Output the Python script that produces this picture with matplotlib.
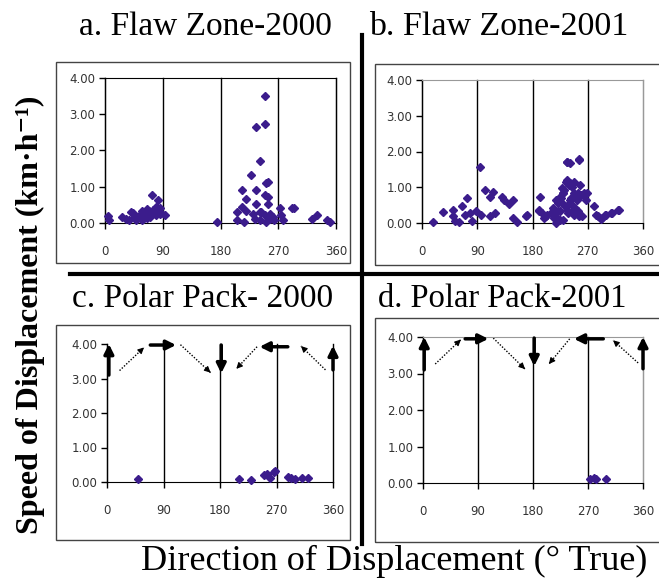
import numpy as np
import matplotlib
matplotlib.use('Agg')
import matplotlib.pyplot as plt
from matplotlib.patches import Rectangle
from matplotlib.lines import Line2D

W, H = 659, 580

# data: direction (deg true) and speed (km/h)
flaw2000_dir = [5, 7, 27, 33, 38, 41, 44, 46, 49, 54, 57, 57, 59, 60, 62, 62, 65, 65, 67, 68,
                70, 70, 73, 74, 75, 78, 80, 80, 83, 85, 86, 88, 94,
                175, 205, 206, 213, 214, 217, 219, 220, 227, 230, 233, 235, 236, 236, 241,
                241, 242, 243, 249, 249, 249, 249, 251, 251, 254, 254, 254, 257, 257,
                262, 264, 273, 275, 278, 291, 295, 322, 330, 346, 351]
flaw2000_spd = [0.18, 0.07, 0.16, 0.11, 0.08, 0.30, 0.28, 0.16, 0.07, 0.21, 0.07, 0.32, 0.11,
                0.18, 0.30, 0.23, 0.39, 0.14, 0.21, 0.32, 0.16, 0.28, 0.25, 0.77, 0.37, 0.35,
                0.44, 0.23, 0.63, 0.41, 0.25, 0.28, 0.21,
                0.03, 0.09, 0.30, 0.92, 0.44, 0.03, 0.33, 0.67, 1.32, 0.26, 0.12, 0.53,
                2.65, 0.90, 0.07, 0.30, 1.70, 0.30, 3.50, 2.74, 0.76, 0.21, 1.09, 0.03,
                1.13, 0.72, 0.53, 0.26, 0.12, 0.17, 0.07, 0.40, 0.21, 0.07, 0.40, 0.41,
                0.12, 0.21, 0.07, 0.02]

flaw2001_dir = [18, 34, 50, 51, 54, 60, 65, 70, 73, 79, 81, 88, 94, 96, 103, 110, 111, 115,
                119, 130, 133, 141, 148, 149, 154, 169, 171, 190, 191, 192, 196, 198, 202,
                203, 210, 211, 213, 215, 217, 219, 219, 221, 222, 224, 224, 225, 226, 228,
                228, 229, 230, 230, 232, 233, 234, 236, 236, 236, 237, 237, 238, 240, 241,
                241, 241, 243, 244, 245, 247, 247, 247, 248, 249, 252, 253, 254, 254, 255,
                256, 256, 257, 259, 260, 263, 264, 267, 269, 280, 283, 287, 292, 293, 298,
                299, 308, 309, 320, 321]
flaw2001_spd = [0.02, 0.30, 0.37, 0.19, 0.05, 0.02, 0.47, 0.23, 0.70, 0.28, 0.05, 0.34, 1.58,
                0.23, 0.93, 0.74, 0.19, 0.88, 0.28, 0.74, 0.65, 0.54, 0.65, 0.14, 0.02, 0.20,
                0.23, 0.37, 0.33, 0.74, 0.28, 0.14, 0.19, 0.23, 0.28, 0.28, 0.42, 0.14, 0.19,
                0.00, 0.65, 0.33, 0.56, 0.09, 0.74, 0.33, 0.70, 0.56, 0.98, 0.84, 0.84, 0.09,
                0.93, 0.47, 1.16, 1.72, 1.21, 0.47, 1.72, 0.37, 0.28, 1.07, 1.67, 1.12, 0.65,
                0.70, 1.02, 0.51, 1.16, 0.84, 0.23, 0.37, 0.42, 0.65, 0.70, 0.33, 0.84, 1.77,
                1.79, 0.19, 1.07, 0.79, 0.19, 0.79, 0.84, 0.65, 0.84, 0.47, 0.23, 0.19, 0.11,
                0.14, 0.23, 0.23, 0.28, 0.28, 0.37, 0.37]

polar2000_dir = [50, 210, 229, 250, 255, 260, 266, 268, 289, 293, 300, 311, 320]
polar2000_spd = [0.09, 0.09, 0.05, 0.19, 0.24, 0.12, 0.28, 0.31, 0.14, 0.12, 0.10, 0.12, 0.12]

polar2001_dir = [273, 280, 283, 300]
polar2001_spd = [0.11, 0.14, 0.12, 0.11]

titles = ['a. Flaw Zone-2000', 'b. Flaw Zone-2001', 'c. Polar Pack- 2000', 'd. Polar Pack-2001']
xticks = [0, 90, 180, 270, 360]
yticks = [0, 1, 2, 3, 4]

# ice drift arrows drawn in the polar pack panels (start -> end)
thick_c = [((3, 3.1), (3, 4.0)), ((69, 3.97), (110, 3.97)), ((182, 3.97), (182, 3.15)),
           ((288, 3.92), (243, 3.92)), ((360, 3.25), (360, 3.95))]
dotted_c = [((20, 3.23), (59, 3.90)), ((117, 3.98), (165, 3.17)),
            ((239, 3.92), (206, 3.28)), ((348, 3.25), (309, 3.94))]
thick_d = [((2, 3.1), (2, 4.0)), ((69, 3.95), (107, 3.95)), ((182, 3.97), (182, 3.2)),
           ((295, 3.95), (247, 3.95)), ((360, 3.13), (360, 4.0))]
dotted_d = [((20, 3.26), (62, 3.93)), ((115, 3.97), (167, 3.12)),
            ((240, 3.95), (206, 3.26)), ((352, 3.29), (311, 3.91))]

fig = plt.figure(figsize=(W / 100, H / 100), dpi=100)
fig.patch.set_facecolor('white')


def fx(x):
    return x / W


def fy(y):
    return 1 - y / H


def frame(x0, y0, x1, y1):
    fig.patches.append(Rectangle((fx(x0), fy(y1)), fx(x1) - fx(x0), fy(y0) - fy(y1),
                                 transform=fig.transFigure, fill=False,
                                 edgecolor='#444444', lw=1.0))


# outer boxes around each chart
frame(56, 62, 350, 263)
frame(375, 64, 663, 265)
frame(56, 325, 350, 540)
frame(375, 318, 663, 542)

# thick separator lines
fig.lines.append(Line2D([fx(362), fx(362)], [fy(35), fy(544)], transform=fig.transFigure,
                        color='k', lw=3))
fig.lines.append(Line2D([fx(70), fx(659)], [fy(274), fy(274)], transform=fig.transFigure,
                        color='k', lw=3))

boxes = [(105, 78, 336, 223), (422, 80, 643, 223), (107, 344, 333, 482), (423, 337, 643, 483)]
data = [(flaw2000_dir, flaw2000_spd), (flaw2001_dir, flaw2001_spd),
        (polar2000_dir, polar2000_spd), (polar2001_dir, polar2001_spd)]
edge_col = ['k', '#999999', None, '#999999']

axes = []
for i, (x0, y0, x1, y1) in enumerate(boxes):
    ax = fig.add_axes([fx(x0), fy(y1), fx(x1) - fx(x0), fy(y0) - fy(y1)])
    ax.set_xlim(0, 360)
    ax.set_ylim(0, 4)
    ax.set_xticks(xticks)
    ax.set_yticks(yticks)
    ax.set_yticklabels(['%.2f' % v for v in yticks])
    ax.tick_params(labelsize=8.5, labelcolor='#333333', direction='out', length=4, width=1)
    ax.tick_params(axis='x', pad=12)
    ax.tick_params(axis='y', pad=3)
    ax.grid(axis='x', color='k', lw=1)
    for gl in ax.xaxis.get_gridlines():
        gl.set_clip_on(False)
    ax.spines['left'].set_color('k')
    ax.spines['bottom'].set_color('k')
    if edge_col[i] is None:
        ax.spines['top'].set_visible(False)
        ax.spines['right'].set_visible(False)
    else:
        ax.spines['top'].set_color(edge_col[i])
        ax.spines['right'].set_color(edge_col[i])
        ax.xaxis.get_gridlines()[-1].set_color(edge_col[i])
    ax.plot(data[i][0], data[i][1], 'D', color='#3b1c8c', markersize=3.6,
            clip_on=False, zorder=5)
    axes.append(ax)


def draw_arrows(ax, thick, dotted):
    for s, e in thick:
        ax.annotate('', xy=e, xytext=s, annotation_clip=False,
                    arrowprops=dict(arrowstyle='-|>', color='k', lw=2.5,
                                    mutation_scale=14, shrinkA=0, shrinkB=0))
    for s, e in dotted:
        ax.plot([s[0], e[0]], [s[1], e[1]], color='k', lw=1, ls=(0, (1, 1.2)), clip_on=False)
        m = (s[0] + 0.85 * (e[0] - s[0]), s[1] + 0.85 * (e[1] - s[1]))
        ax.annotate('', xy=e, xytext=m, annotation_clip=False,
                    arrowprops=dict(arrowstyle='-|>', color='k', lw=0.8,
                                    mutation_scale=9, shrinkA=0, shrinkB=0))


draw_arrows(axes[2], thick_c, dotted_c)
draw_arrows(axes[3], thick_d, dotted_d)

serif = ['Liberation Serif', 'DejaVu Serif']
fig.text(fx(205), fy(27), titles[0], ha='center', va='center', fontsize=24, family=serif)
fig.text(fx(369), fy(27), titles[1], ha='left', va='center', fontsize=24.5, family=serif)
fig.text(fx(203), fy(299), titles[2], ha='center', va='center', fontsize=24, family=serif)
fig.text(fx(378), fy(299), titles[3], ha='left', va='center', fontsize=23.5, family=serif)

fig.text(fx(30), fy(315), 'Speed of Displacement (km·h⁻¹)', rotation=90, ha='center',
         va='center', fontsize=23, fontweight='bold', family=serif)
fig.text(fx(394), fy(561), 'Direction of Displacement (° True)', ha='center', va='center',
         fontsize=26, family=serif)

fig.savefig('out.png', dpi=100)
